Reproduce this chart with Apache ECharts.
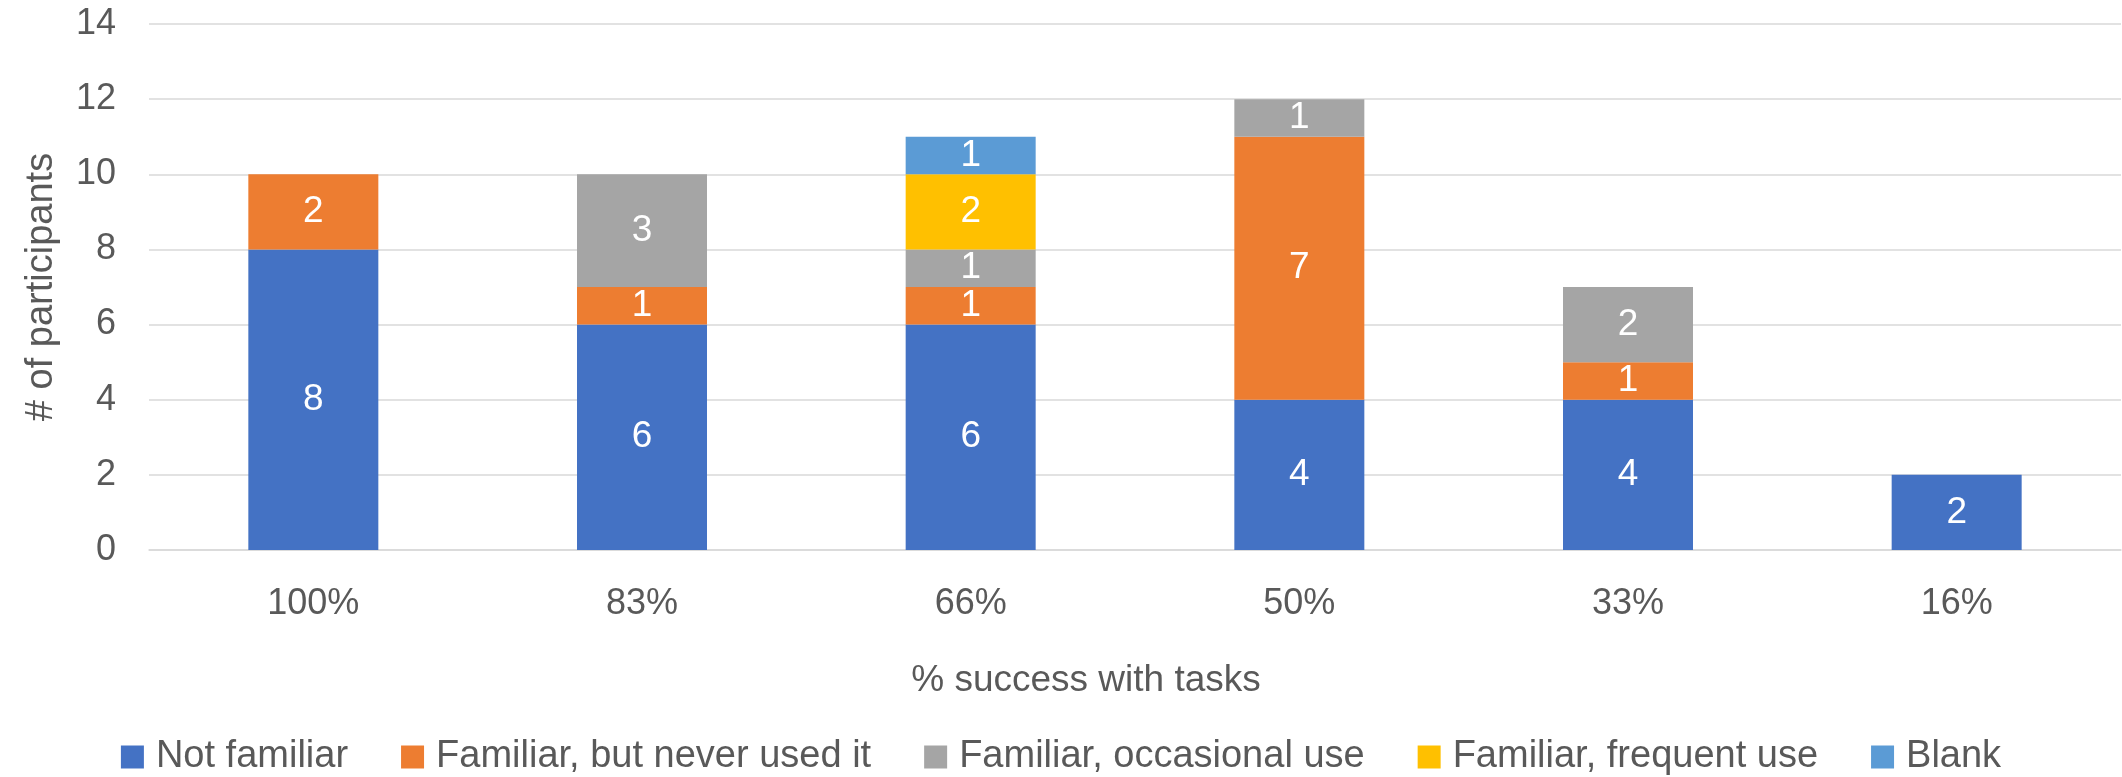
<!DOCTYPE html>
<html>
<head>
<meta charset="utf-8">
<script src="https://cdn.jsdelivr.net/npm/echarts@6/dist/echarts.min.js"></script>
<style>
  html, body { margin: 0; padding: 0; background: #fff; }
  #chart { width: 2122px; height: 777px; }
</style>
</head>
<body>
<div id="chart"></div>
<script>
const categories = ["100%", "83%", "66%", "50%", "33%", "16%"];
const notFamiliar = [8, 6, 6, 4, 4, 2];
const neverUsed = [2, 1, 1, 7, 1, null];
const occasional = [null, 3, 1, 1, 2, null];
const frequent = [null, null, 2, null, null, null];
const blank = [null, null, 1, null, null, null];

const seriesNames = [
  "Not familiar",
  "Familiar, but never used it",
  "Familiar, occasional use",
  "Familiar, frequent use",
  "Blank",
];
const colorList = ["#4472C4", "#ED7D31", "#A5A5A5", "#FFC000", "#5B9BD5"];
const seriesData = [notFamiliar, neverUsed, occasional, frequent, blank];

const font = "Liberation Sans";
const textColor = "#595959";

const chart = echarts.init(document.getElementById("chart"));

const series = seriesData.map((d, i) => {
  return {
    name: seriesNames[i],
    type: "bar",
    stack: "total",
    barWidth: 130,
    itemStyle: { color: colorList[i] },
    label: {
      show: true,
      position: "inside",
      color: "#fff",
      fontFamily: font,
      fontSize: 37,
    },
    data: d,
  };
});

const option = {
  animation: false,
  grid: { left: 149, right: 1, top: 24, bottom: 227 },
  legend: {
    data: seriesNames,
    top: 733,
    left: "center",
    itemWidth: 23,
    itemHeight: 23,
    itemGap: 53,
    icon: "rect",
    textStyle: {
      color: textColor,
      fontFamily: font,
      fontSize: 38,
      padding: [0, 0, 0, 7],
    },
  },
  xAxis: {
    type: "category",
    data: categories,
    name: "% success with tasks",
    nameLocation: "middle",
    nameGap: 112,
    nameTextStyle: {
      color: textColor,
      fontFamily: font,
      fontSize: 37,
      padding: [0, 98, 0, 0],
    },
    axisLine: { lineStyle: { color: "#D9D9D9", width: 1.5 } },
    axisTick: { show: false },
    axisLabel: {
      color: textColor,
      fontFamily: font,
      fontSize: 36,
      margin: 36,
    },
  },
  yAxis: {
    type: "value",
    min: 0,
    max: 14,
    interval: 2,
    name: "# of participants",
    nameLocation: "middle",
    nameGap: 88,
    nameTextStyle: {
      color: textColor,
      fontFamily: font,
      fontSize: 38,
    },
    axisLine: { show: false },
    axisTick: { show: false },
    axisLabel: {
      color: textColor,
      fontFamily: font,
      fontSize: 36,
      margin: 33,
    },
    splitLine: { lineStyle: { color: "#D9D9D9", width: 1.5 } },
  },
  series: series,
};

chart.setOption(option);
</script>
</body>
</html>
